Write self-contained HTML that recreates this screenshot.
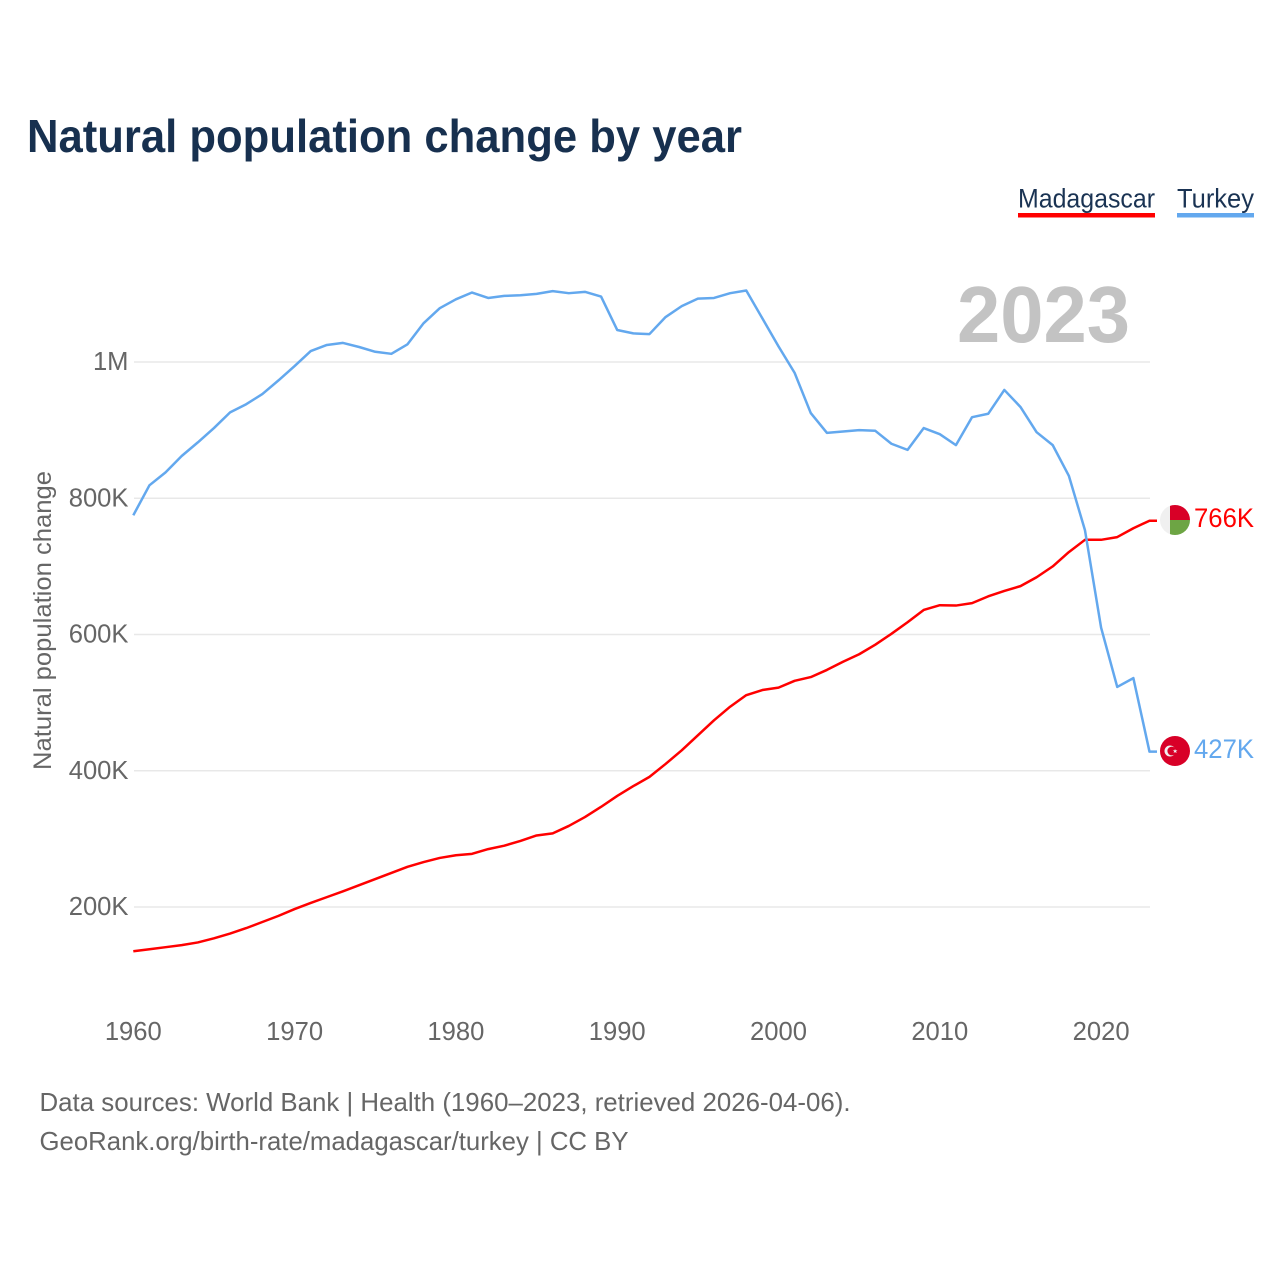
<!DOCTYPE html>
<html lang="en">
<head>
<meta charset="utf-8">
<title>Natural population change by year</title>
<style>
html,body{margin:0;padding:0;background:#fff;}
svg{display:block;}
text{font-family:"Liberation Sans",sans-serif;}
</style>
</head>
<body>
<svg id="chart" width="1280" height="1280" viewBox="0 0 1280 1280" xmlns="http://www.w3.org/2000/svg">
  <rect x="0" y="0" width="1280" height="1280" fill="#ffffff"/>
  <text x="27" y="152" font-size="46" font-weight="700" fill="#17304f" textLength="715" lengthAdjust="spacingAndGlyphs">Natural population change by year</text>

  <g>
    <text x="1018" y="207.500" font-size="27" fill="#1a3353" textLength="137" lengthAdjust="spacingAndGlyphs">Madagascar</text>
    <rect x="1018" y="213" width="137" height="4.5" fill="#ff0000"/>
  </g>
  <g>
    <text x="1177" y="207.500" font-size="27" fill="#1a3353" textLength="77" lengthAdjust="spacingAndGlyphs">Turkey</text>
    <rect x="1177" y="213" width="77" height="4.5" fill="#63a8ee"/>
  </g>

  <g id="grid"></g>
  <g id="y-ticks"></g>
  <g id="x-ticks"></g>

  <text x="957" y="342" font-size="80" font-weight="700" fill="#c3c3c3" textLength="173" lengthAdjust="spacingAndGlyphs">2023</text>

  <text transform="translate(51,770) rotate(-90)" x="0" y="0" font-size="25" fill="#666666" textLength="299" lengthAdjust="spacingAndGlyphs">Natural population change</text>

  <g id="series"></g>

  <g>
    <clipPath id="mg-clip"><circle cx="1175" cy="520" r="15"/></clipPath>
    <g clip-path="url(#mg-clip)">
      <rect x="1160" y="505" width="10" height="30" fill="#f0f0f0"/>
      <rect x="1170" y="505" width="20" height="15" fill="#d80027"/>
      <rect x="1170" y="520" width="20" height="15" fill="#6da544"/>
    </g>
  </g>
  <g>
    <circle cx="1175" cy="751" r="15" fill="#d80027"/>
    <circle cx="1170" cy="751" r="5.5" fill="#f0f0f0"/>
    <circle cx="1171.8" cy="751" r="4.4" fill="#d80027"/>
    <polygon points="1175,749 1175.7,750.4 1177.5,750.4 1176.1,751.4 1176.7,753 1175,752.1 1173.6,753 1174.2,751.4 1172.8,750.4 1174.5,750.4" fill="#f0f0f0"/>
  </g>

  <text id="label-mg" x="1194" y="527" font-size="26.500" fill="#ff0000" textLength="60" lengthAdjust="spacingAndGlyphs">766K</text>
  <text id="label-tr" x="1194" y="758" font-size="26.500" fill="#63a8ee" textLength="60" lengthAdjust="spacingAndGlyphs">427K</text>

  <text x="39.500" y="1111" font-size="26" fill="#666666" textLength="811" lengthAdjust="spacingAndGlyphs">Data sources: World Bank | Health (1960–2023, retrieved 2026-04-06).</text>
  <text x="39.500" y="1150" font-size="26" fill="#666666" textLength="589" lengthAdjust="spacingAndGlyphs">GeoRank.org/birth-rate/madagascar/turkey | CC BY</text>
</svg>
<script>
const startYear = 1960;
const xTickYears = [1960, 1970, 1980, 1990, 2000, 2010, 2020];
const yTickValues = [200, 400, 600, 800, 1000];
const yTickLabels = ["200K", "400K", "600K", "800K", "1M"];
const madagascar = [135,138,141,144,148,154,161,169,178,187,197,206,214.5,223,232,241,250,259,266,272,276,278,285,290,297,305,308,319,332,347,363,377.5,391,410,430,452,474,494,511,518.5,522,532,537.5,548,560,571,585,601,618,636,643,642.5,646,656,664,671,684,700,721,739,739,743,756,767];
const turkey = [775,819,838,862,882,903,926,938,953,973,994,1016,1025,1028,1022,1015,1012,1026,1057,1079,1092,1102,1094,1097,1098,1100,1104,1101,1103,1096,1047,1042,1041,1066,1082,1093,1094,1101,1105,1064,1023,984,925,896,898,900,899,880,871,903,894,878,919,924,959,934,897,878,833,753,610,523,536,428];

const NS = "http://www.w3.org/2000/svg";
function xScale(year) { return 133.3 + (year - 1960) * (1149.5 - 133.3) / 63; }
function yScale(v) { return 1043.25 - v * 0.68125; }
function make(tag, attrs, parent) {
  const el = document.createElementNS(NS, tag);
  for (const k in attrs) el.setAttribute(k, attrs[k]);
  parent.appendChild(el);
  return el;
}
const grid = document.getElementById("grid");
const yTicks = document.getElementById("y-ticks");
const xTicks = document.getElementById("x-ticks");
const seriesGroup = document.getElementById("series");

yTickValues.forEach(function (v, i) {
  const line = make("line", { x1: 134, x2: 1150, y1: yScale(v), y2: yScale(v), stroke: "#e8e8e8", "stroke-width": 1.5 }, grid);
  
  
  const t = make("text", { x: 128.5, y: yScale(v) + 8, "text-anchor": "end", "font-size": 25.6, fill: "#666666" }, yTicks);
  t.textContent = yTickLabels[i];
  
  
});
xTickYears.forEach(function (y) {
  const t = make("text", { x: xScale(y), y: 1040, "text-anchor": "middle", "font-size": 25.6, fill: "#666666" }, xTicks);
  t.textContent = String(y);
  
  
});
function drawSeries(values, color) {
  const pts = values.map(function (v, i) { return xScale(startYear + i).toFixed(2) + "," + yScale(v).toFixed(2); });
  const lastY = yScale(values[values.length - 1]).toFixed(2);
  pts.push("1157," + lastY);
  const line = make("polyline", { points: pts.join(" "), fill: "none", stroke: color, "stroke-width": 2.5, "stroke-linejoin": "round" }, seriesGroup);
  return line;
}
const lineMg = drawSeries(madagascar, "#ff0000");


const lineTr = drawSeries(turkey, "#63a8ee");


</script>
</body>
</html>
